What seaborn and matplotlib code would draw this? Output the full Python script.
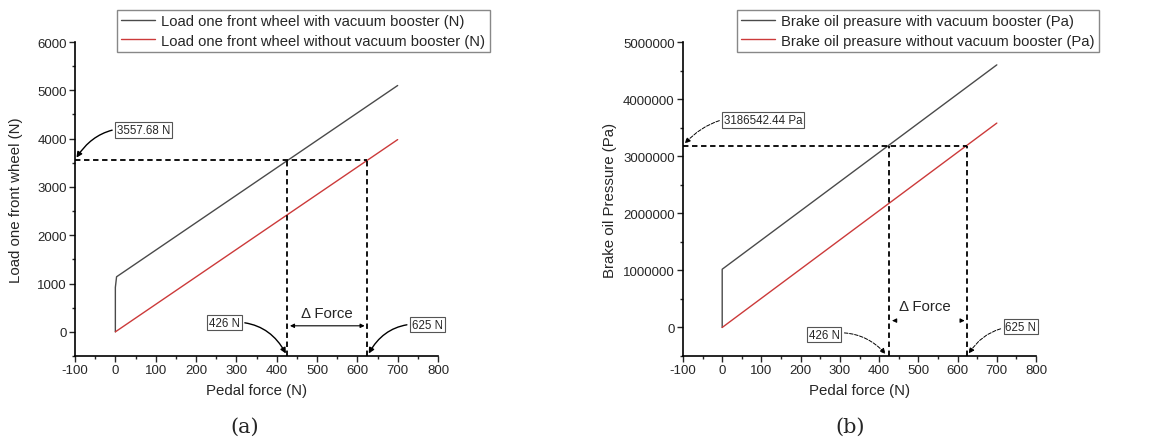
import pandas as pd
import matplotlib.pyplot as plt
import seaborn as sns
from matplotlib.ticker import MultipleLocator, FormatStrFormatter

# Panel (a): load on one front wheel
pedal_with_a = [0, 0, 3, 700]
load_with = [0, 920, 1140, 5100]
pedal_without_a = [0, 700]
load_without = [0, 3980]
load_target = 3557.68

# Panel (b): brake oil pressure
pedal_with_b = [0, 0, 700]
press_with = [0, 1020000, 4600000]
pedal_without_b = [0, 700]
press_without = [0, 3580000]
press_target = 3186542.44

force_with = 426
force_without = 625

sns.set_theme(style="ticks")
plt.rcParams['font.family'] = ['Liberation Sans', 'DejaVu Sans']
plt.rcParams['axes.unicode_minus'] = False

fig = plt.figure(figsize=(11.49, 4.39), dpi=100)
ax_a = fig.add_axes([0.0653, 0.1868, 0.3159, 0.7152])
ax_b = fig.add_axes([0.5944, 0.1868, 0.3073, 0.7152])

dark = '#4a4a4a'
red = '#cc3a3a'


def draw_panel(ax, x1, y1, x2, y2, lab1, lab2, target, ylim, major, ylabel, legend_x, ypad):
    d1 = pd.DataFrame({'x': x1, 'y': y1})
    d2 = pd.DataFrame({'x': x2, 'y': y2})
    sns.lineplot(data=d1, x='x', y='y', ax=ax, sort=False, estimator=None,
                 color=dark, lw=1.0, label=lab1)
    sns.lineplot(data=d2, x='x', y='y', ax=ax, sort=False, estimator=None,
                 color=red, lw=1.0, label=lab2)
    ax.set_xlim(-100, 800)
    ax.set_ylim(*ylim)
    # dashed guide lines
    ax.plot([-100, force_without], [target, target], color='black', ls=(0, (3, 2)), lw=1.3)
    ax.plot([force_with, force_with], [ylim[0], target], color='black', ls=(0, (3, 2)), lw=1.3)
    ax.plot([force_without, force_without], [ylim[0], target], color='black', ls=(0, (3, 2)), lw=1.3)

    ax.xaxis.set_major_locator(MultipleLocator(100))
    ax.xaxis.set_minor_locator(MultipleLocator(50))
    ax.yaxis.set_major_locator(MultipleLocator(major))
    ax.yaxis.set_minor_locator(MultipleLocator(major / 2))
    ax.yaxis.set_major_formatter(FormatStrFormatter('%d'))
    ax.tick_params(which='major', direction='out', length=4, width=1, labelsize=9.5, pad=2)
    ax.tick_params(which='minor', direction='out', length=2, width=1)
    for s in ['left', 'bottom']:
        ax.spines[s].set_linewidth(1.2)
        ax.spines[s].set_color('black')
    sns.despine(ax=ax)
    ax.set_xlabel('Pedal force (N)', fontsize=10.8, labelpad=5)
    ax.set_ylabel(ylabel, fontsize=10.8, labelpad=ypad)
    leg = ax.legend(loc='upper left', bbox_to_anchor=(legend_x, 0.975),
                    bbox_transform=fig.transFigure, fontsize=10.6, frameon=True,
                    fancybox=False, framealpha=1, edgecolor='#888888',
                    handlelength=2.3, borderpad=0.3, labelspacing=0.35,
                    handletextpad=0.4, borderaxespad=0)
    leg.get_frame().set_linewidth(1.0)


draw_panel(ax_a, pedal_with_a, load_with, pedal_without_a, load_without,
           'Load one front wheel with vacuum booster (N)',
           'Load one front wheel without vacuum booster (N)',
           load_target, (-500, 6000), 1000, 'Load one front wheel (N)', 0.1018, 10)
draw_panel(ax_b, pedal_with_b, press_with, pedal_without_b, press_without,
           'Brake oil preasure with vacuum booster (Pa)',
           'Brake oil preasure without vacuum booster (Pa)',
           press_target, (-500000, 5000000), 1000000, 'Brake oil Pressure (Pa)', 0.6414, 4)

box = dict(boxstyle='square,pad=0.15', fc='white', ec='#555555', lw=0.8)
arrow_solid = dict(arrowstyle='-|>', color='black', lw=1.0, mutation_scale=8)
arrow_dash = dict(arrowstyle='-|>', color='black', lw=0.7, ls='--', mutation_scale=8)

# annotations panel (a)
ax_a.annotate('3557.68 N', xy=(-100, load_target), xytext=(4, 4180), fontsize=8.3,
              va='center', ha='left', bbox=box,
              arrowprops=dict(connectionstyle='arc3,rad=0.35', **arrow_solid))
ax_a.annotate('426 N', xy=(force_with, -500), xytext=(232, 190), fontsize=8.3,
              va='center', ha='left', bbox=box,
              arrowprops=dict(connectionstyle='arc3,rad=-0.35', **arrow_solid))
ax_a.annotate('625 N', xy=(force_without, -500), xytext=(735, 150), fontsize=8.3,
              va='center', ha='left', bbox=box,
              arrowprops=dict(connectionstyle='arc3,rad=0.35', **arrow_solid))
ax_a.text(525, 380, '\u0394 Force', fontsize=10.8, ha='center', va='center')
ax_a.annotate('', xy=(force_with, 125), xytext=(force_without, 125),
              arrowprops=dict(arrowstyle='<|-|>', color='black', lw=0.8, mutation_scale=6))

# annotations panel (b)
ax_b.annotate('3186542.44 Pa', xy=(-100, press_target), xytext=(5, 3636000), fontsize=8.3,
              va='center', ha='left', bbox=box,
              arrowprops=dict(connectionstyle='arc3,rad=0.3', **arrow_dash))
ax_b.annotate('426 N', xy=(force_with - 5, -500000), xytext=(220, -125000), fontsize=8.3,
              va='center', ha='left', bbox=box,
              arrowprops=dict(connectionstyle='arc3,rad=-0.3', **arrow_dash))
ax_b.annotate('625 N', xy=(force_without, -500000), xytext=(722, 15000), fontsize=8.3,
              va='center', ha='left', bbox=box,
              arrowprops=dict(connectionstyle='arc3,rad=0.3', **arrow_dash))
ax_b.text(517, 370000, '\u0394 Force', fontsize=10.8, ha='center', va='center')
ax_b.annotate('', xy=(force_with, 120000), xytext=(force_with + 20, 120000),
              arrowprops=dict(arrowstyle='-|>', color='black', lw=0.8, mutation_scale=6))
ax_b.annotate('', xy=(force_without, 120000), xytext=(force_without - 20, 120000),
              arrowprops=dict(arrowstyle='-|>', color='black', lw=0.8, mutation_scale=6))

fig.text(0.213, 0.027, '(a)', fontsize=15, family='DejaVu Serif', ha='center', va='center')
fig.text(0.740, 0.027, '(b)', fontsize=15, family='DejaVu Serif', ha='center', va='center')

plt.savefig('out.png', dpi=100)
